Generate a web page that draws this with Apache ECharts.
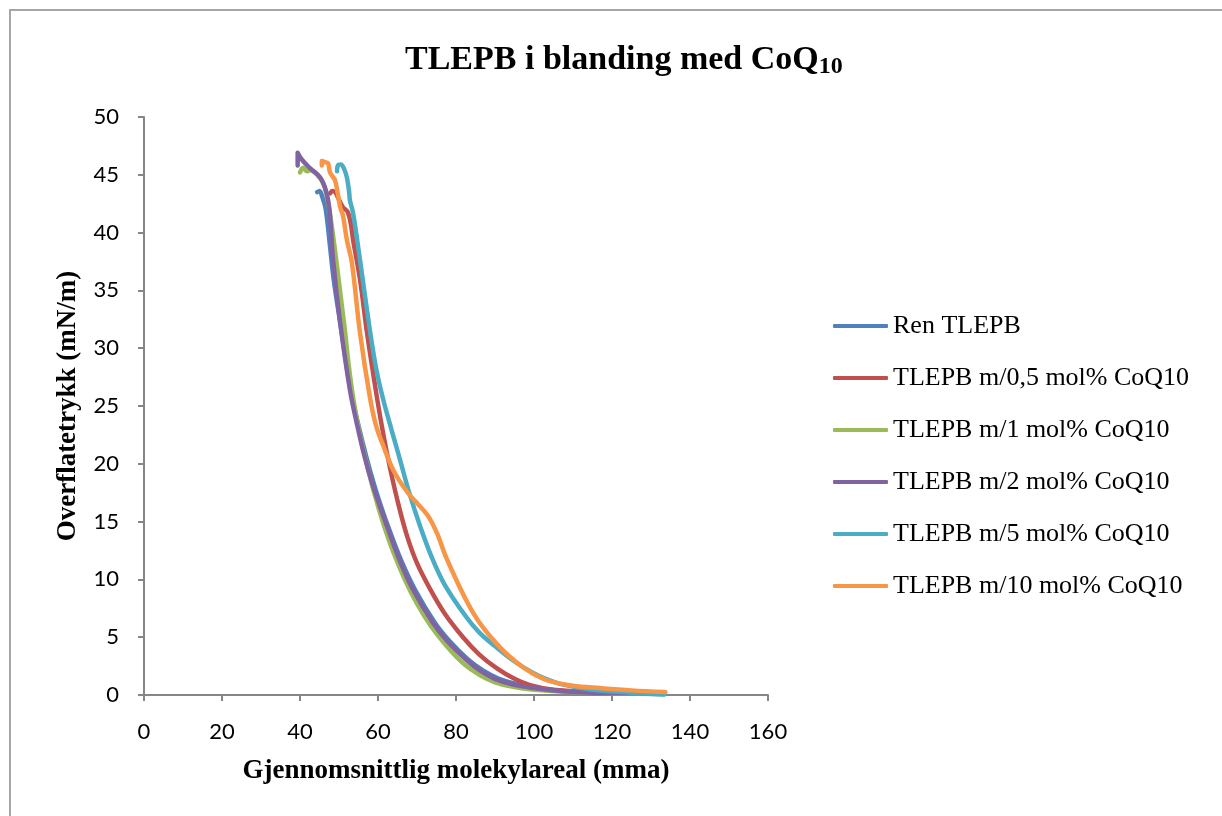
<!DOCTYPE html>
<html>
<head>
<meta charset="utf-8">
<script src="https://cdn.jsdelivr.net/npm/echarts@6/dist/echarts.min.js"></script>
<style>
  html, body { margin: 0; padding: 0; background: #fff; }
  #main { width: 1222px; height: 816px; }
</style>
</head>
<body>
<div id="main"></div>
<script>
// serienavn
var seriesNames = ['Ren TLEPB', 'TLEPB m/0,5 mol% CoQ10', 'TLEPB m/1 mol% CoQ10',
  'TLEPB m/2 mol% CoQ10', 'TLEPB m/5 mol% CoQ10', 'TLEPB m/10 mol% CoQ10'];
var seriesColors = ['#4F81BD', '#C0504D', '#9BBB59', '#8064A2', '#4BACC6', '#F79646'];

// [areal, trykk] lest av bildet
var renTlepb = [[44.4,43.5],[45,43.6],[45.8,43.0],[46.5,42.2],[47.0,41.0],[47.8,38.5],[48.7,35.8],
  [50.5,31.8],[52.9,26.5],[54.8,23.6],[57,20.6],[59,18.2],[61,16.1],[63,14.2],[66,11.6],[69.5,9.1],
  [74.5,6.3],[78.5,4.6],[83,3.1],[87,2.1],[91,1.4],[95,1.0],[100,0.6],[107,0.35],[115,0.2],[125,0.12],[133.5,0.08]];
var coq05 = [[47.7,43.4],[48.3,43.6],[49,43.5],[49.8,43.0],[51,42.2],[52.2,41.8],[53,40.8],[53.6,39.4],
  [55.4,35.9],[57.2,31.3],[59.7,25.8],[61.5,22.3],[63.3,19.3],[65.3,16.4],[67.5,13.7],[70,11.4],[73.3,9.2],
  [77,7.1],[81.8,5.0],[86,3.5],[90.5,2.3],[95,1.4],[99,0.85],[105,0.45],[115,0.25],[125,0.15],[133.5,0.1]];
var coq1 = [[40,45.2],[40.8,45.6],[41.8,45.3],[42.6,45.4],[44.4,45.0],[45.9,44.3],[46.8,43.3],[47.5,42],
  [48.3,40.2],[49.3,37.6],[50.8,33.5],[51.5,31.6],[52.5,28.5],[53.6,25.8],[55.3,22.6],[57.2,19.9],[59,17.5],
  [61.3,14.9],[64,12.3],[67,9.9],[70,7.9],[73.5,6.0],[77.7,4.2],[82,2.7],[86.2,1.7],[90,1.1],[94.6,0.7],
  [100,0.45],[110,0.25],[120,0.15],[133.5,0.08]];
var coq2 = [[39.4,45.8],[39.4,46.9],[40.5,46.3],[42.5,45.6],[45.1,44.8],[46.4,43.9],[47.2,42.8],[47.7,41.5],
  [48.5,37.6],[50.3,32.2],[52.8,26.4],[54.5,23.6],[56.5,20.7],[58.5,18.3],[60.5,16.3],[62.3,14.6],[65.6,11.6],
  [69,9.1],[74,6.3],[77.7,4.7],[82.8,3.0],[86.2,2.1],[90,1.4],[94.6,0.9],[100,0.6],[106.7,0.35],[115,0.2],
  [125,0.15],[133.5,0.1]];
var coq5 = [[49.5,45.3],[49.7,45.8],[50.5,45.9],[51.2,45.6],[52,44.8],[52.6,43.5],[52.8,42.8],[53.6,41.7],
  [55.4,37.6],[57.9,31.6],[59.5,28.3],[61.3,25.6],[63.5,22.9],[65.6,20.4],[68,17.5],[70.8,14.6],[73.8,11.9],
  [77,9.6],[82.3,6.9],[86,5.4],[90.8,4.0],[95,2.9],[99.3,2.0],[103,1.4],[107.5,0.9],[115,0.45],[125,0.2],[133.5,0.05]];
var coq10 = [[45.6,45.8],[45.6,46.2],[46.4,46.1],[47.2,46.0],[47.7,45.2],[49,44.5],[50.3,42.2],[51,41.5],
  [52,39.4],[53.3,37.4],[55.4,31.3],[57.9,25.8],[59.5,23.3],[61.3,21.6],[64,19.4],[67.4,17.6],[70,16.6],
  [72.6,15.6],[74,14.8],[75.5,13.7],[77,12.3],[79.2,10.6],[82,8.6],[84.4,7.1],[87,5.8],[90.5,4.4],[93.5,3.4],
  [97.2,2.4],[100,1.8],[104.1,1.2],[110,0.8],[116.9,0.6],[125,0.4],[133.7,0.25]];
var seriesData = [renTlepb, coq05, coq1, coq2, coq5, coq10];

var myChart = echarts.init(document.getElementById('main'));

var series = [];
for (var i = 0; i < seriesData.length; i++) {
    series.push({
        name: seriesNames[i],
        type: 'line',
        data: seriesData[i],
        symbol: 'none',
        smooth: 0.35,
        color: seriesColors[i],
        lineStyle: { width: 4.5, color: seriesColors[i], cap: 'round', join: 'round' }
    });
}

var axisGray = '#868686';
var serif = 'Liberation Serif';
var option = {
    backgroundColor: '#fff',
    animation: false,
    title: {
        text: '{t|TLEPB i blanding med CoQ}{s|10}',
        left: 400,
        top: 38,
        textStyle: {
            rich: {
                t: { fontFamily: serif, fontWeight: 'bold', fontSize: 34, color: '#000',
                     lineHeight: 36, verticalAlign: 'top' },
                s: { fontFamily: serif, fontWeight: 'bold', fontSize: 24, color: '#000',
                     lineHeight: 24, verticalAlign: 'bottom', padding: [34, 0, 0, 0] }
            }
        }
    },
    graphic: [{
        type: 'rect',
        shape: { x: 10, y: 10, width: 1400, height: 1000 },
        style: { fill: 'none', stroke: '#a6a6a6', lineWidth: 2 },
        silent: true
    }],
    legend: {
        orient: 'vertical',
        left: 833,
        top: 313,
        padding: 0,
        icon: 'roundRect',
        itemWidth: 55,
        itemHeight: 4,
        itemGap: 26,
        data: seriesNames,
        textStyle: { fontFamily: serif, fontSize: 26, lineHeight: 26, color: '#000' }
    },
    grid: { left: 144, right: 454, top: 117, bottom: 121 },
    xAxis: {
        type: 'value',
        min: 0, max: 160, interval: 20,
        name: 'Gjennomsnittlig molekylareal (mma)',
        nameLocation: 'middle',
        nameGap: 63,
        nameTextStyle: { fontFamily: serif, fontWeight: 'bold', fontSize: 27, color: '#000' },
        axisLine: { lineStyle: { color: axisGray, width: 2 } },
        axisTick: { show: true, inside: false, length: 6, lineStyle: { color: axisGray, width: 2 } },
        axisLabel: { fontFamily: 'Lato', fontSize: 22, color: '#000', margin: 26 },
        splitLine: { show: false }
    },
    yAxis: {
        type: 'value',
        min: 0, max: 50, interval: 5,
        name: 'Overflatetrykk (mN/m)',
        nameLocation: 'middle',
        nameGap: 62,
        nameRotate: 90,
        nameTextStyle: { fontFamily: serif, fontWeight: 'bold', fontSize: 27, color: '#000' },
        axisLine: { show: true, lineStyle: { color: axisGray, width: 2 } },
        axisTick: { show: true, inside: false, length: 6, lineStyle: { color: axisGray, width: 2 } },
        axisLabel: { fontFamily: 'Lato', fontSize: 22, color: '#000', margin: 25 },
        splitLine: { show: false }
    },
    series: series
};
myChart.setOption(option);
</script>
</body>
</html>
